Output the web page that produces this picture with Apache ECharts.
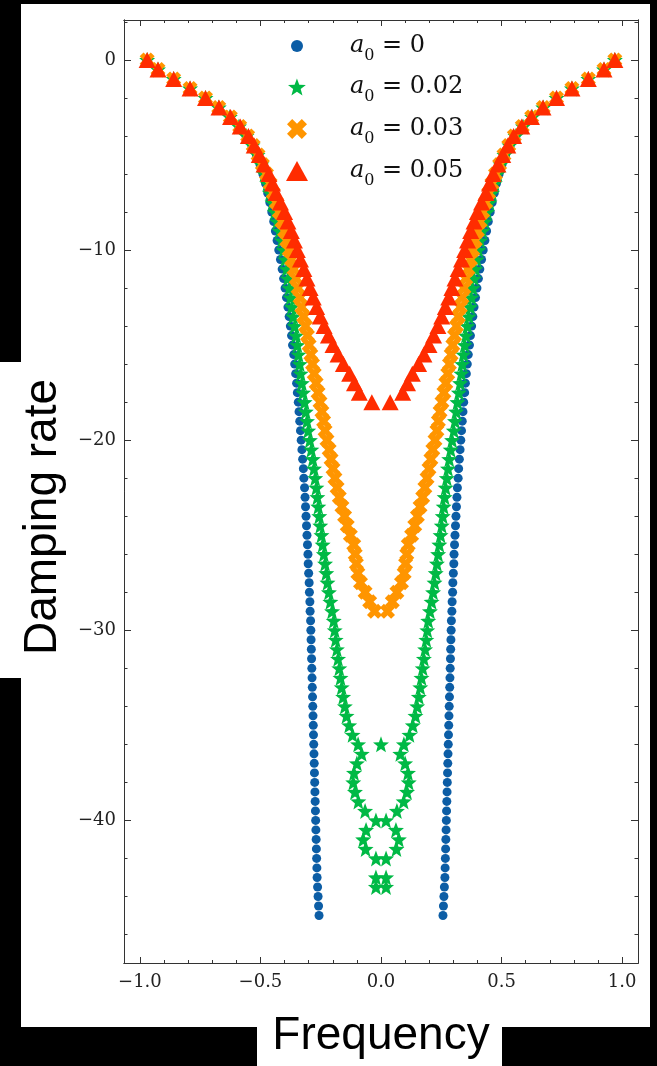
<!DOCTYPE html>
<html><head><meta charset="utf-8">
<script src="https://cdn.jsdelivr.net/npm/echarts@6/dist/echarts.min.js"></script>
<style>html,body{margin:0;padding:0;background:#000;}#c{width:657px;height:1066px;}</style>
</head><body><div id="c"></div>
<script>
// Damping-rate grid (the points of every curve sit on these levels)
const damping = [0,-0.5,-1,-1.5,-2,-2.5,-3,-3.5,-4,-4.5,-5,-5.5,-6,-6.5,-7,-7.5,-8,-8.5,-9,-9.5,
 -10,-10.5,-11,-11.5,-12,-12.5,-13,-13.5,-14,-14.5,-15,-15.5,-16,-16.5,-17,-17.5,-18,-18.5,-19,-19.5,
 -20,-20.5,-21,-21.5,-22,-22.5,-23,-23.5,-24,-24.5,-25,-25.5,-26,-26.5,-27,-27.5,-28,-28.5,-29,-29.5,
 -30,-30.5,-31,-31.5,-32,-32.5,-33,-33.5,-34,-34.5,-35,-35.5,-36,-36.5,-37,-37.5,-38,-38.5,-39,-39.5,
 -40,-40.5,-41,-41.5,-42,-42.5,-43,-43.5,-44,-44.5,-45];

// |Frequency| for each damping level (branches at +/- value)
const freqA0_0 = [0.970,0.925,0.860,0.792,0.728,0.673,0.627,0.590,0.560,0.536,0.517,0.502,0.490,0.479,0.470,0.461,0.453,0.445,0.438,0.431,
 0.424,0.417,0.410,0.404,0.398,0.392,0.386,0.381,0.376,0.371,0.367,0.362,0.358,0.354,0.350,0.347,0.343,0.340,0.337,0.334,
 0.331,0.328,0.325,0.322,0.320,0.317,0.315,0.313,0.311,0.309,0.307,0.305,0.303,0.302,0.300,0.298,0.297,0.295,0.294,0.292,
 0.291,0.290,0.289,0.288,0.287,0.286,0.285,0.284,0.283,0.282,0.281,0.280,0.279,0.278,0.277,0.276,0.275,0.274,0.273,0.272,
 0.271,0.270,0.269,0.268,0.267,0.266,0.265,0.263,0.261,0.259,0.257];

const freqA0_002 = [0.970,0.925,0.860,0.792,0.728,0.673,0.627,0.589,0.558,0.533,0.512,0.496,0.483,0.471,0.460,0.450,0.440,0.430,0.420,0.411,
 0.404,0.397,0.391,0.386,0.380,0.375,0.370,0.364,0.358,0.352,0.347,0.342,0.337,0.333,0.328,0.323,0.317,0.312,0.307,0.302,
 0.295,0.289,0.283,0.278,0.273,0.268,0.264,0.260,0.256,0.252,0.247,0.242,0.237,0.232,0.227,0.222,0.216,0.210,0.203,0.196,
 0.192,0.188,0.183,0.178,0.173,0.168,0.163,0.157,0.150,0.143,0.132,0.118,0.095,0.080,0.100,0.112,0.115,0.108,0.094,0.066,
 0.021,0.062,0.074,0.064,0.021,null,0.021,0.021];
const extraFreqA0_002 = [0];
const extraDampA0_002 = [-36];

const freqA0_003 = [0.970,0.925,0.860,0.792,0.728,0.673,0.625,0.586,0.553,0.530,0.510,0.492,0.475,0.460,0.447,0.434,0.422,0.411,0.400,0.391,
 0.381,0.371,0.361,0.352,0.344,0.336,0.329,0.321,0.313,0.305,0.298,0.291,0.284,0.277,0.269,0.261,0.253,0.245,0.238,0.232,
 0.224,0.215,0.207,0.199,0.191,0.182,0.173,0.162,0.151,0.140,0.127,0.113,0.107,0.102,0.096,0.085,0.066,0.047,0.027];

const freqA0_005 = [0.970,0.925,0.860,0.792,0.728,0.672,0.624,0.584,0.550,0.526,0.505,0.485,0.465,0.450,0.435,0.417,0.400,0.386,0.372,0.359,
 0.347,0.334,0.320,0.307,0.294,0.281,0.267,0.252,0.236,0.218,0.199,0.178,0.156,0.130,0.110,0.090,0.038];

const seriesNames = ['a0 = 0','a0 = 0.02','a0 = 0.03','a0 = 0.05'];
const legendValues = ['0','0.02','0.03','0.05'];
const colors = ['#0C5DA5','#00B945','#FF9500','#FF2C00'];

const xMajorTicks = [-1,-0.5,0,0.5,1];
const xMinorTicks = [-1,-0.9,-0.8,-0.7,-0.6,-0.5,-0.4,-0.3,-0.2,-0.1,0,0.1,0.2,0.3,0.4,0.5,0.6,0.7,0.8,0.9,1];
const yMajorTicks = [0,-10,-20,-30,-40];
const yMinorTicks = [2,0,-2,-4,-6,-8,-10,-12,-14,-16,-18,-20,-22,-24,-26,-28,-30,-32,-34,-36,-38,-40,-42,-44,-46];
const xMin = -1.066, xMax = 1.066, yMin = -47.5, yMax = 2.1;

function branches(freq, extraF, extraD){
  const out = [];
  freq.forEach((v,i)=>{ if(v!==null){ out.push([-v, damping[i]]); out.push([v, damping[i]]); } });
  if(extraF){ extraF.forEach((f,i)=>out.push([f, extraD[i]])); }
  return out;
}

function starPath(){
  const p=[];
  for(let i=0;i<10;i++){
    const r = i%2===0?1:0.42;
    const a = -Math.PI/2 + i*Math.PI/5;
    p.push((r*Math.cos(a)).toFixed(3)+','+(r*Math.sin(a)).toFixed(3));
  }
  return 'path://M'+p.join(' L')+' Z';
}
const STAR = starPath();
const XMARK = 'path://M0,2.6 L2.6,0 L5,2.4 L7.4,0 L10,2.6 L7.6,5 L10,7.4 L7.4,10 L5,7.6 L2.6,10 L0,7.4 L2.4,5 Z';

const frame = '#333';
const tickFont = {fontFamily:'DejaVu Serif', fontSize:18, color:'#222'};
function fmt(v){ const s = Math.abs(v)<1e-9 ? '0' : String(Math.abs(v)); return (v<0?'\u2212':'')+s; }
function fmtX(v){ return (v<0?'\u2212':'')+Math.abs(v).toFixed(1); }

function xAx(pos, ticks, len, withLabels, extra){
  return Object.assign({type:'value', position:pos, min:xMin, max:xMax,
    axisLine:{show:true, onZero:false, lineStyle:{color:frame, width:1}},
    axisTick:{show:true, inside:true, length:len, customValues:ticks, lineStyle:{color:frame, width:1}},
    axisLabel:withLabels?Object.assign({show:true, customValues:ticks, margin:10, formatter:fmtX}, tickFont):{show:false},
    splitLine:{show:false}}, extra||{});
}
function yAx(pos, ticks, len, withLabels, extra){
  return Object.assign({type:'value', position:pos, min:yMin, max:yMax,
    axisLine:{show:true, onZero:false, lineStyle:{color:frame, width:1}},
    axisTick:{show:true, inside:true, length:len, customValues:ticks, lineStyle:{color:frame, width:1}},
    axisLabel:withLabels?Object.assign({show:true, customValues:ticks, margin:8, formatter:fmt}, tickFont):{show:false},
    splitLine:{show:false}}, extra||{});
}

const legendIcons = [
  {w:12,h:12,row:52},
  {w:18,h:17,row:93},
  {w:20,h:20,row:135},
  {w:22,h:20,row:177}
];
const rich = {
  i:{fontFamily:'DejaVu Serif', fontStyle:'italic', fontSize:24, lineHeight:36, color:'#111'},
  s:{fontFamily:'DejaVu Serif', fontSize:16, lineHeight:18, verticalAlign:'bottom', color:'#111'},
  n:{fontFamily:'DejaVu Serif', fontSize:24, lineHeight:36, color:'#111'}
};
const legends = seriesNames.map((nm,k)=>{
  const ic = legendIcons[k];
  return {data:[nm], orient:'vertical', left:297-ic.w/2, top:ic.row-18, padding:0,
    itemWidth:ic.w, itemHeight:ic.h, selectedMode:false,
    formatter:()=> '{i|a}{s|0}{n| = '+legendValues[k]+'}',
    textStyle:{padding:[0,0,0,48-ic.w/2], rich:rich}};
});

const chart = echarts.init(document.getElementById('c'), null, {renderer:'canvas'});
chart.setOption({
  backgroundColor:'#000',
  animation:false,
  graphic:[
    {type:'rect', z:-10, silent:true, shape:{x:21,y:4,width:629,height:1023}, style:{fill:'#fff'}},
    {type:'rect', z:-10, silent:true, shape:{x:0,y:362,width:22,height:316}, style:{fill:'#fff'}},
    {type:'rect', z:-10, silent:true, shape:{x:257,y:1026,width:245,height:40}, style:{fill:'#fff'}}
  ],
  grid:{left:124, right:19, top:20, bottom:103, containLabel:false},
  legend:legends,
  xAxis:[
    xAx('bottom', xMajorTicks, 6, true, {name:'Frequency', nameLocation:'middle', nameGap:50,
      nameTextStyle:{fontFamily:'Liberation Sans', fontSize:46, lineHeight:46, color:'#000'}}),
    xAx('bottom', xMinorTicks, 3, false),
    xAx('top', xMajorTicks, 6, false),
    xAx('top', xMinorTicks, 3, false)
  ],
  yAxis:[
    yAx('left', yMajorTicks, 7, true, {name:'Damping rate', nameLocation:'middle', nameGap:58, nameRotate:90,
      nameTextStyle:{fontFamily:'Liberation Sans', fontSize:46, lineHeight:46, color:'#000', padding:[0,51,0,0]}}),
    yAx('left', yMinorTicks, 3.5, false),
    yAx('right', yMajorTicks, 7, false),
    yAx('right', yMinorTicks, 3.5, false)
  ],
  series:[
    {type:'scatter', name:seriesNames[0], data:branches(freqA0_0), symbol:'circle', symbolSize:9,
      itemStyle:{color:colors[0], opacity:1}},
    {type:'scatter', name:seriesNames[1], data:branches(freqA0_002, extraFreqA0_002, extraDampA0_002), symbol:STAR, symbolSize:16,
      itemStyle:{color:colors[1], opacity:1}},
    {type:'scatter', name:seriesNames[2], data:branches(freqA0_003), symbol:XMARK, symbolSize:15,
      itemStyle:{color:colors[2], opacity:1}},
    {type:'scatter', name:seriesNames[3], data:branches(freqA0_005), symbol:'triangle', symbolSize:[17,16],
      itemStyle:{color:colors[3], opacity:1}}
  ]
});
</script></body></html>
